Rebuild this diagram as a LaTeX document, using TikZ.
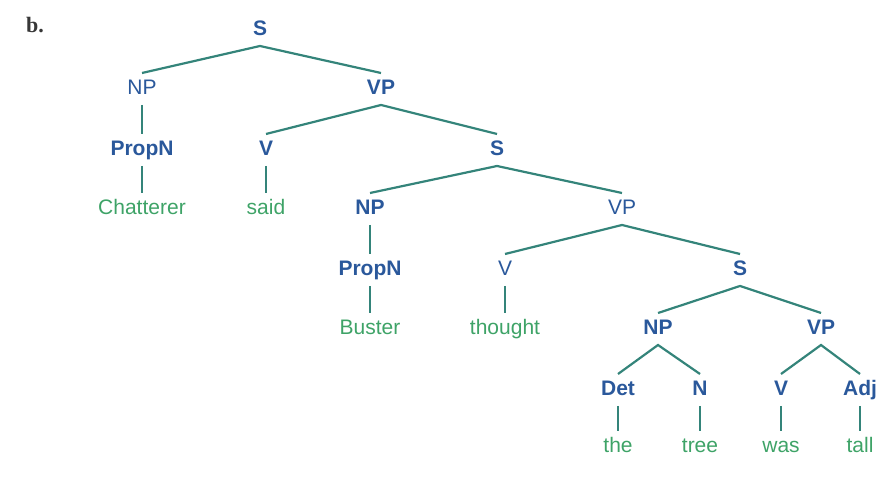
\documentclass[tikz,border=0pt]{standalone}
\usepackage{fontspec}
\setmainfont{Liberation Sans}
\newfontfamily\serifb{Liberation Serif}
\definecolor{catblue}{RGB}{42,88,155}
\definecolor{wordgreen}{RGB}{62,163,103}
\definecolor{edgeteal}{RGB}{52,132,122}
\definecolor{markgray}{RGB}{55,55,55}
\tikzset{
  x=1pt, y=1pt,
  base/.style={inner sep=0pt, outer sep=0pt, anchor=base, text height=22pt, text depth=10pt, font=\fontsize{21}{25}\selectfont},
  catb/.style={base, text=catblue, font=\fontsize{21}{25}\selectfont\bfseries},
  catr/.style={base, text=catblue},
  word/.style={base, text=wordgreen},
  edge/.style={draw=edgeteal, line width=2.2pt},
}
\begin{document}
\begin{tikzpicture}
\useasboundingbox (0,0) rectangle (888,481);
% label
\node[inner sep=0pt, anchor=base west, text=markgray, font=\serifb\fontsize{22}{24}\selectfont\bfseries] (lbl) at (26,448) {b.};
% level 0
\node[catb] (s1) at (260,445) {S};
% level 1
\node[catr] (np1) at (142,386) {NP};
\node[catb] (vp1) at (381,386) {VP};
% level 2
\node[catb] (pn1) at (142,325) {PropN};
\node[catb] (v1) at (266,325) {V};
\node[catb] (s2) at (497,325) {S};
% level 3
\node[word] (w1) at (142,266) {Chatterer};
\node[word] (w2) at (266,266) {said};
\node[catb] (np2) at (370,266) {NP};
\node[catr] (vp2) at (622,266) {VP};
% level 4
\node[catb] (pn2) at (370,205) {PropN};
\node[catr] (v2) at (505,205) {V};
\node[catb] (s3) at (740,205) {S};
% level 5
\node[word] (w3) at (370,146) {Buster};
\node[word] (w4) at (505,146) {thought};
\node[catb] (np3) at (658,146) {NP};
\node[catb] (vp3) at (821,146) {VP};
% level 6
\node[catb] (det) at (618,85) {Det};
\node[catb] (n) at (700,85) {N};
\node[catb] (v3) at (781,85) {V};
\node[catb] (adj) at (860,85) {Adj};
% level 7
\node[word] (w5) at (618,28) {the};
\node[word] (w6) at (700,28) {tree};
\node[word] (w7) at (781,28) {was};
\node[word] (w8) at (860,28) {tall};
% edges
\draw[edge] (np1.north) -- (s1.south) -- (vp1.north);
\draw[edge] (np1.south) -- (pn1.north);
\draw[edge] (pn1.south) -- (w1.north);
\draw[edge] (v1.north) -- (vp1.south) -- (s2.north);
\draw[edge] (v1.south) -- (w2.north);
\draw[edge] (np2.north) -- (s2.south) -- (vp2.north);
\draw[edge] (np2.south) -- (pn2.north);
\draw[edge] (pn2.south) -- (w3.north);
\draw[edge] (v2.north) -- (vp2.south) -- (s3.north);
\draw[edge] (v2.south) -- (w4.north);
\draw[edge] (np3.north) -- (s3.south) -- (vp3.north);
\draw[edge] (det.north) -- (np3.south) -- (n.north);
\draw[edge] (v3.north) -- (vp3.south) -- (adj.north);
\draw[edge] (det.south) -- (w5.north);
\draw[edge] (n.south) -- (w6.north);
\draw[edge] (v3.south) -- (w7.north);
\draw[edge] (adj.south) -- (w8.north);
\end{tikzpicture}
\end{document}
